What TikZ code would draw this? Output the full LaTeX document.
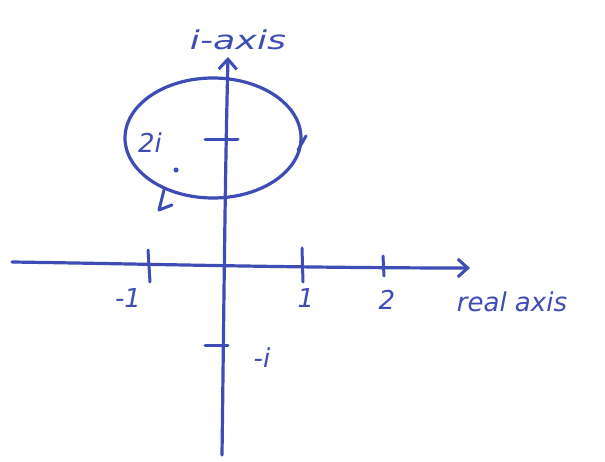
\documentclass[tikz,border=0pt]{standalone}
\usepackage{fontspec}
\setmainfont{DejaVu Sans}
\usetikzlibrary{arrows.meta}
\definecolor{ink}{RGB}{62,76,182}
\begin{document}
\begin{tikzpicture}[x=1pt,y=-1pt,
  pen/.style={draw=ink,line width=3.2pt,line cap=round,line join=round},
  tickline/.style={pen,line width=3pt},
  lbl/.style={text=ink,font=\itshape\fontsize{26}{28}\selectfont,inner sep=1pt}]
\useasboundingbox (0,0) rectangle (605,462);
% axis endpoints
\coordinate (xl) at (12,262);
\coordinate (xr) at (470,268);
\coordinate (yb) at (222,455);
\coordinate (yt) at (228,57);
\draw[pen,-{Straight Barb[length=10pt,width=18pt,line width=3pt]}] (xl) .. controls (150,264) and (300,268) .. (xr);
\draw[pen,-{Straight Barb[length=10pt,width=18pt,line width=3pt]}] (yb) .. controls (224,300) and (225,180) .. (yt);
% circle
\coordinate (c) at (213,138);
\draw[pen] (c) ellipse [x radius=88, y radius=60];
% ticks
\draw[tickline] (148,250) -- (150,282);
\draw[tickline] (302,248) -- (303,282);
\draw[tickline] (383,256) -- (384,276);
\draw[tickline] (205,140) -- (238,140);
\draw[tickline] (205,345) -- (228,345);
\draw[tickline] (298,150) -- (306,136);
\draw[tickline] (164,190) -- (159,210) -- (172,205);
\fill[ink] (176,170) circle (2.5pt);
% labels
\node[lbl,xscale=1.4] (ia) at (238,40) {i-axis};
\node[lbl] (m1) at (128,298) {-1};
\node[lbl] (p1) at (306,298) {1};
\node[lbl] (p2) at (387,300) {2};
\node[lbl] (ra) at (512,302) {real axis};
\node[lbl] (mi) at (262,358) {-i};
\node[lbl] (ti) at (150,143) {2i};
\end{tikzpicture}
\end{document}
